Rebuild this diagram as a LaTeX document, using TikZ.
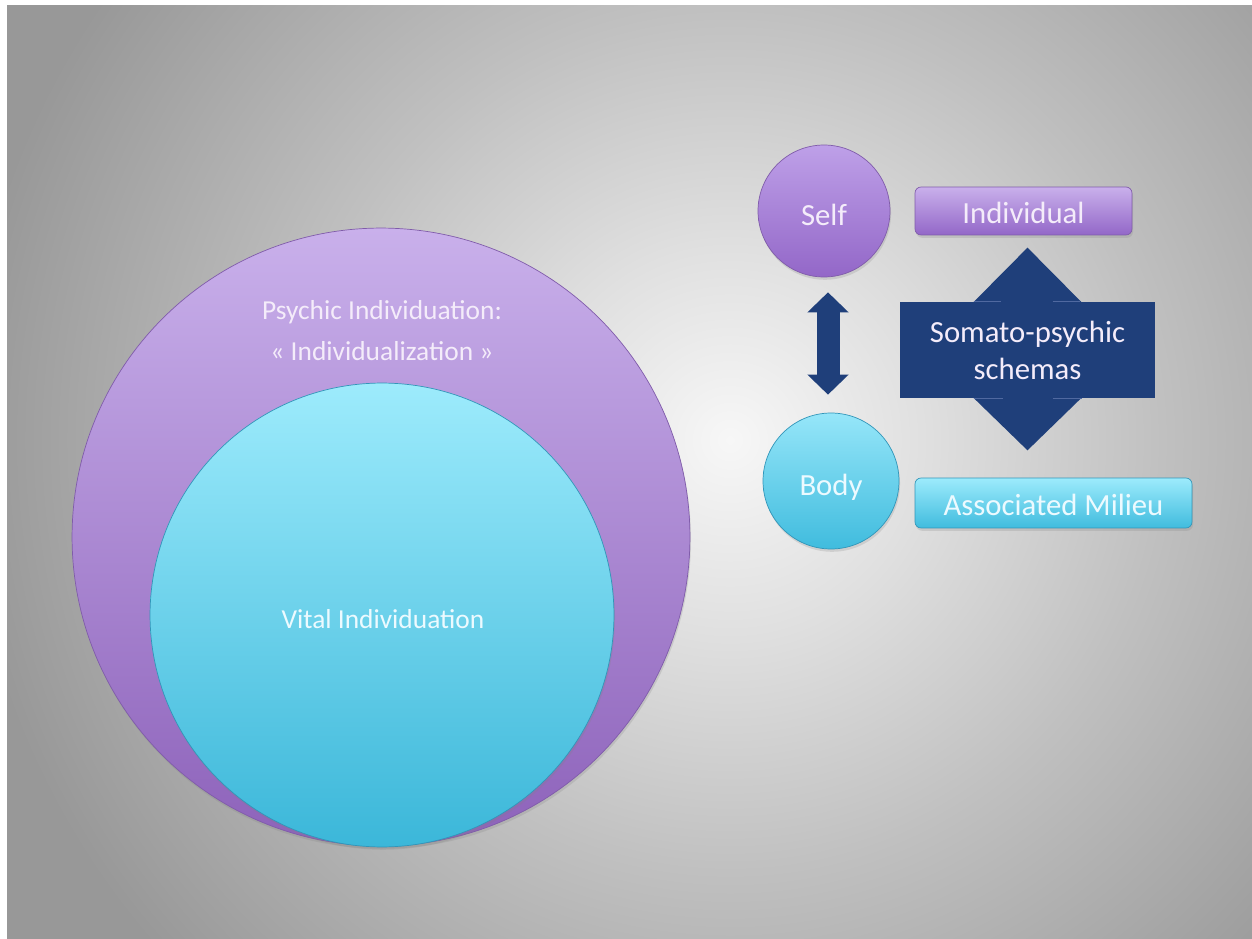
\documentclass[tikz,border=0pt]{standalone}
\usepackage{fontspec}
\setmainfont{Carlito}
\usetikzlibrary{arrows.meta,shadows,calc}
\definecolor{navy}{RGB}{31,63,122}
\definecolor{navyline}{RGB}{80,105,160}
\definecolor{bgA}{RGB}{247,247,247}
\definecolor{bgB}{RGB}{224,224,224}
\definecolor{bgC}{RGB}{192,192,192}
\definecolor{bgD}{RGB}{152,152,152}
\definecolor{purTop}{RGB}{201,176,235}
\definecolor{purBot}{RGB}{141,98,186}
\definecolor{purEdge}{RGB}{128,92,170}
\definecolor{cyTop}{RGB}{157,235,252}
\definecolor{cyBot}{RGB}{59,183,217}
\definecolor{cyEdge}{RGB}{50,150,185}
\definecolor{selfTop}{RGB}{190,160,232}
\definecolor{selfBot}{RGB}{147,103,200}
\definecolor{bodyTop}{RGB}{150,230,249}
\definecolor{bodyBot}{RGB}{64,188,222}
\definecolor{ptext}{RGB}{244,236,250}
\definecolor{ctext}{RGB}{236,250,255}
\pgfdeclareradialshading{bgshade}{\pgfpoint{0bp}{0bp}}{color(0bp)=(bgA); color(6bp)=(bgB); color(13.5bp)=(bgC); color(24bp)=(bgD); color(50bp)=(bgD)}
\begin{document}
\begin{tikzpicture}[x=0.02cm,y=-0.02cm,
  softshadow/.style={drop shadow={opacity=0.22,shadow xshift=0.6pt,shadow yshift=-1.6pt}},
  bigpur/.style={circle,inner sep=0pt,top color=purTop,bottom color=purBot,draw=purEdge,line width=0.4pt,softshadow},
  bigcy/.style={circle,inner sep=0pt,top color=cyTop,bottom color=cyBot,draw=cyEdge,line width=0.4pt,softshadow},
  ltext/.style={align=center,font={\fontsize{15.6pt}{23.3pt}\selectfont}},
  rtext/.style={align=center,font={\fontsize{17.5pt}{21pt}\selectfont}},
  lowtext/.style={text height=0.7cm,text depth=0.1cm},
  selfc/.style={circle,inner sep=0pt,minimum size=2.64cm,top color=selfTop,bottom color=selfBot,draw=purEdge,line width=0.4pt,softshadow,text=ptext,rtext,lowtext},
  bodyc/.style={circle,inner sep=0pt,minimum size=2.72cm,top color=bodyTop,bottom color=bodyBot,draw=cyEdge,line width=0.4pt,softshadow,text=ctext,rtext,lowtext},
  purbox/.style={rectangle,rounded corners=0.12cm,inner sep=0pt,top color=purTop,bottom color=selfBot,draw=purEdge,line width=0.4pt,softshadow,text=ptext,rtext,text height=0.6cm,text depth=0.1cm},
  cybox/.style={rectangle,rounded corners=0.12cm,inner sep=0pt,top color=cyTop,bottom color=bodyBot,draw=cyEdge,line width=0.4pt,softshadow,text=ctext,rtext,text height=0.6cm,text depth=0.1cm},
  schemabox/.style={rectangle,inner sep=0pt,fill=navy,text=ptext,rtext},
  fatarrow/.style={navy,line width=0.46cm,{Triangle[width=0.8cm,length=0.4cm]}-{Triangle[width=0.8cm,length=0.4cm]}},
  schemaline/.style={navyline,line width=0.8pt}
]
\useasboundingbox (0,0) rectangle (1252,939);
\fill[white] (0,0) rectangle (1252,939);
\begin{scope}
  \clip (7,6) rectangle (1252,938);
  \shade[shading=bgshade] (-70,-360) rectangle (1530,1240);
\end{scope}

% left nested circles
\node[bigpur,minimum size=12.36cm] (psychic) at (381,537) {};
\node[bigcy,minimum size=9.28cm] (vital) at (382,615) {};
\node[ltext,text=ptext] (psychictext) at (382,331) {Psychic Individuation:\\« Individualization »};
\node[ltext,text=ctext] (vitaltext) at (383,619) {Vital Individuation};

% right side
\node[selfc] (self) at (824,211) {Self};
\node[bodyc] (body) at (831,481) {Body};
\node[purbox,minimum width=4.34cm,minimum height=0.96cm] (indiv) at (1023.5,211) {Individual};
\node[cybox,minimum width=5.54cm,minimum height=1.0cm] (milieu) at (1053.5,503) {Associated Milieu};

\coordinate (ax) at (828,0);
\draw[fatarrow,shorten <=0.3cm,shorten >=0.36cm] (self.south -| ax) -- (body.north -| ax);

\node[schemabox,minimum width=5.1cm,minimum height=1.92cm] (schema) at (1027.5,350) {Somato-psychic\\schemas};
\fill[navy] ($(schema.north)+(-54,0.5)$) -- ($(schema.north)+(0,-54)$) -- ($(schema.north)+(54,0.5)$) -- cycle;
\fill[navy] ($(schema.south)+(-54,-0.5)$) -- ($(schema.south)+(0,52)$) -- ($(schema.south)+(54,-0.5)$) -- cycle;
\draw[schemaline] ($(schema.north)+(-54,0)$) -- ($(schema.north)+(-27,0)$);
\draw[schemaline] ($(schema.north)+(25,0)$) -- ($(schema.north)+(52,0)$);
\draw[schemaline] ($(schema.south)+(-54,0)$) -- ($(schema.south)+(-25,0)$);
\draw[schemaline] ($(schema.south)+(25,0)$) -- ($(schema.south)+(54,0)$);
\end{tikzpicture}
\end{document}
